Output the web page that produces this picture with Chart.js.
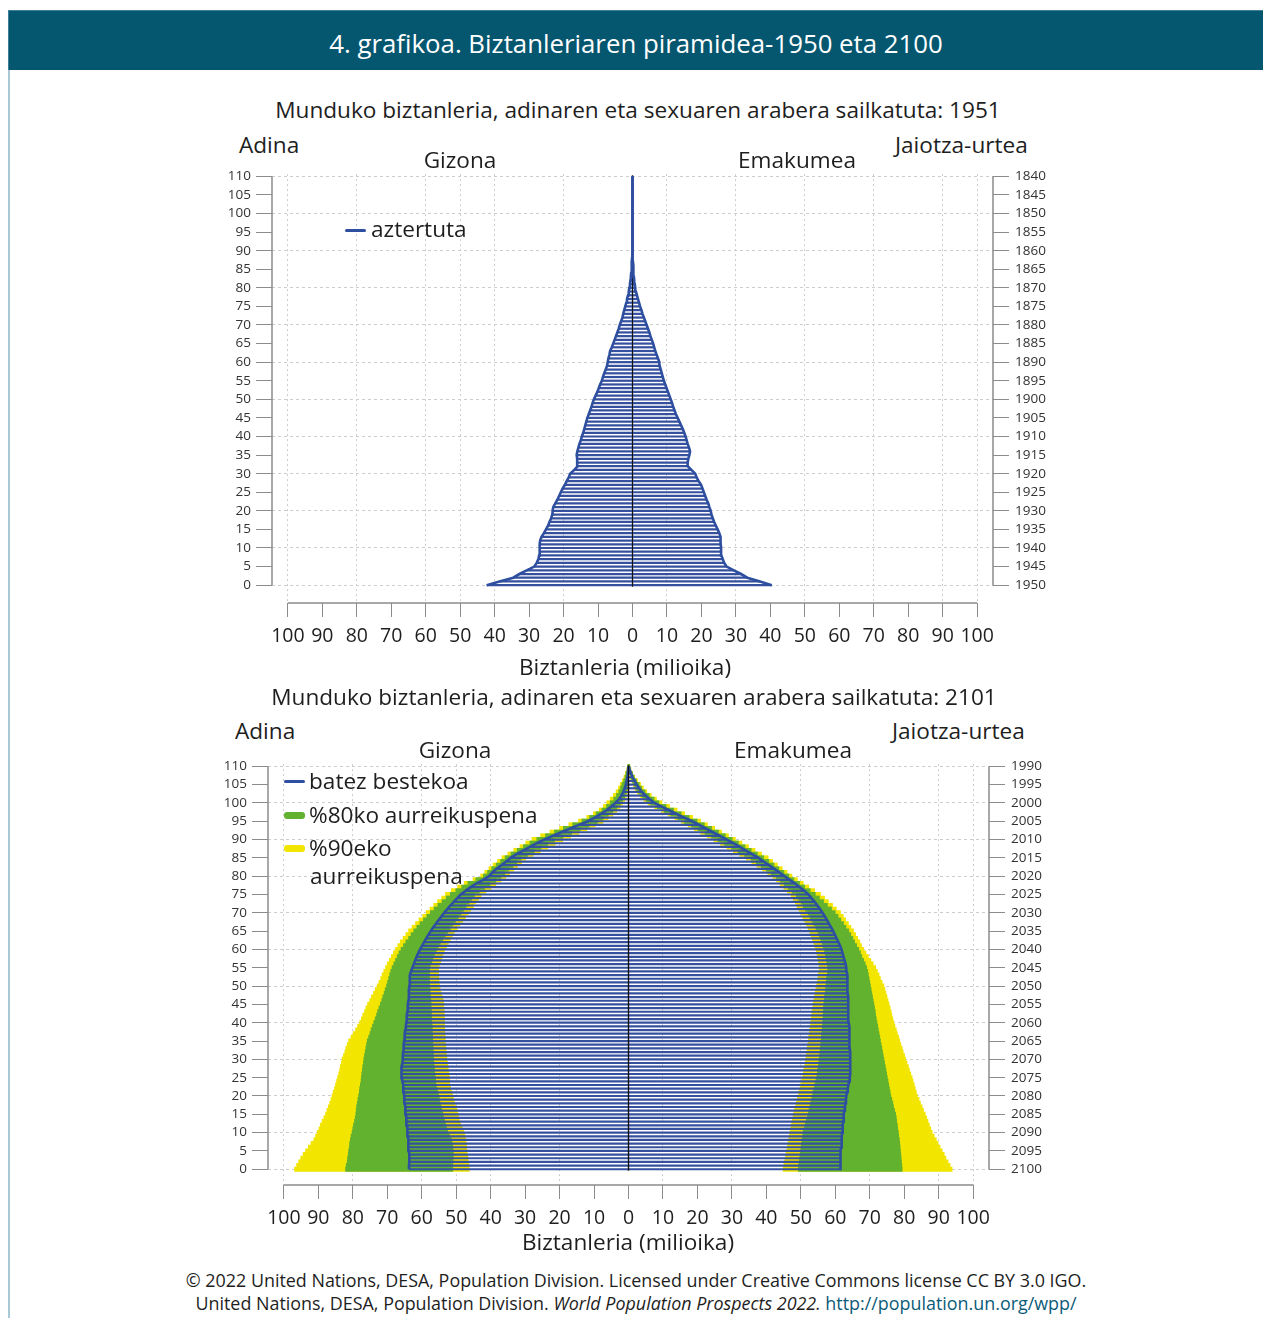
<!DOCTYPE html>
<html>
<head>
<meta charset="utf-8">
<script src="https://cdn.jsdelivr.net/npm/chart.js@4.4.1/dist/chart.umd.min.js"></script>
<style>
    body { margin: 0; width: 1263px; height: 1318px; position: relative; background: #fff; overflow: hidden;
           font-family: 'Open Sans', Lato, sans-serif; color: #1e1e1e; }
    .banner { position: absolute; left: 8px; top: 10px; width: 1255px; height: 60px; background: #05566f;
              border-top: 1px solid #3d7f96; border-left: 1px solid #3d7f96; box-sizing: border-box; }
    .rule { position: absolute; left: 8px; top: 70px; width: 2px; height: 1248px; background: #a8c8d6; }
    .t { position: absolute; white-space: nowrap; line-height: 1; z-index: 2; font-size: 22.6px; }
    .c { transform: translate(-50%, -50%); }
    .l { transform: translateY(-50%); }
    .key { position: absolute; border-radius: 3px; z-index: 2; }
    .foot { font-size: 17.9px; }
    canvas { position: absolute; z-index: 1; }
    a { color: #0b5b78; text-decoration: none; }
</style>
</head>
<body>
<div class="banner"></div>
<div class="rule"></div>
<div class="t c" style="left:636px;top:44px;font-size:25.8px;color:#fff;">4. grafikoa. Biztanleriaren piramidea-1950 eta 2100</div>

<div class="t c" style="left:638px;top:110px;">Munduko biztanleria, adinaren eta sexuaren arabera sailkatuta: 1951</div>
<div class="t l" style="left:239px;top:145px;">Adina</div>
<div class="t c" style="left:460px;top:160px;">Gizona</div>
<div class="t c" style="left:797px;top:160px;">Emakumea</div>
<div class="t l" style="left:895px;top:145px;">Jaiotza-urtea</div>
<div class="key" style="left:345px;top:229px;width:21px;height:3px;background:#2e4f9f;"></div>
<div class="t l" style="left:371px;top:229px;">aztertuta</div>
<div class="t c" style="left:625px;top:667px;">Biztanleria (milioika)</div>

<div class="t c" style="left:634px;top:697px;">Munduko biztanleria, adinaren eta sexuaren arabera sailkatuta: 2101</div>
<div class="t l" style="left:235px;top:731px;">Adina</div>
<div class="t c" style="left:455px;top:750px;">Gizona</div>
<div class="t c" style="left:793px;top:750px;">Emakumea</div>
<div class="t l" style="left:892px;top:731px;">Jaiotza-urtea</div>
<div class="key" style="left:284px;top:780px;width:21px;height:3px;background:#2e4f9f;"></div>
<div class="t l" style="left:309px;top:781px;">batez bestekoa</div>
<div class="key" style="left:284px;top:812px;width:21px;height:7px;background:#63b22f;"></div>
<div class="t l" style="left:309px;top:815px;">%80ko aurreikuspena</div>
<div class="key" style="left:284px;top:845px;width:21px;height:7px;background:#f2e600;"></div>
<div class="t l" style="left:309px;top:848px;">%90eko</div>
<div class="t l" style="left:310px;top:876px;">aurreikuspena</div>
<div class="t c" style="left:628px;top:1242px;">Biztanleria (milioika)</div>

<div class="t c foot" style="left:636px;top:1281px;">© 2022 United Nations, DESA, Population Division. Licensed under Creative Commons license CC BY 3.0 IGO.</div>
<div class="t c foot" style="left:636px;top:1304px;">United Nations, DESA, Population Division. <i>World Population Prospects 2022.</i> <a href="http://population.un.org/wpp/">http://population.un.org/wpp/</a></div>

<canvas id="pyramid1951" width="880" height="520" style="left:200px;top:160px;"></canvas>
<canvas id="pyramid2101" width="880" height="512" style="left:196px;top:750px;"></canvas>

<script>
// single years of age, 0..110
const ages = [
    0, 1, 2, 3, 4, 5, 6, 7, 8, 9, 10, 11, 12, 13, 14, 15, 16, 17, 18, 19,
    20, 21, 22, 23, 24, 25, 26, 27, 28, 29, 30, 31, 32, 33, 34, 35, 36, 37, 38, 39,
    40, 41, 42, 43, 44, 45, 46, 47, 48, 49, 50, 51, 52, 53, 54, 55, 56, 57, 58, 59,
    60, 61, 62, 63, 64, 65, 66, 67, 68, 69, 70, 71, 72, 73, 74, 75, 76, 77, 78, 79,
    80, 81, 82, 83, 84, 85, 86, 87, 88, 89, 90, 91, 92, 93, 94, 95, 96, 97, 98, 99,
    100, 101, 102, 103, 104, 105, 106, 107, 108, 109, 110
];
const ageTicks = [0, 5, 10, 15, 20, 25, 30, 35, 40, 45, 50, 55, 60, 65, 70, 75, 80, 85, 90, 95, 100, 105, 110];
const popTicks = [-100, -90, -80, -70, -60, -50, -40, -30, -20, -10, 0, 10, 20, 30, 40, 50, 60, 70, 80, 90, 100];
const gridValues = [-100, -80, -60, -50, -40, -20, 10, 30, 50, 70, 90, 100];

// 1951, millions
const male1951 = [
    42.3, 38.6, 34.6, 32.8, 30.7, 28.5, 27.8, 27.3, 27.1, 27.0,
    26.9, 26.9, 26.8, 26.4, 25.7, 25.1, 24.5, 24.1, 23.6, 23.3,
    23.2, 23.0, 22.4, 21.8, 21.3, 20.8, 20.3, 19.6, 19.1, 18.5,
    18.1, 16.9, 15.9, 16.0, 16.1, 16.2, 16.0, 15.7, 15.4, 15.0,
    14.7, 14.3, 14.0, 13.7, 13.4, 13.1, 12.7, 12.3, 11.9, 11.6,
    11.2, 10.7, 10.2, 9.8, 9.4, 8.9, 8.6, 8.2, 7.8, 7.4,
    7.2, 7.0, 6.7, 6.5, 6.0, 5.6, 5.2, 4.8, 4.4, 4.0,
    3.7, 3.3, 2.9, 2.7, 2.4, 2.1, 1.8, 1.6, 1.3, 1.1,
    0.92, 0.75, 0.6, 0.48, 0.38, 0.3, 0.22, 0.16, 0.12, 0.08,
    0.06, 0.04, 0.03, 0.02, 0.015, 0.01, 0.01, 0.01, 0.01, 0.01,
    0.01, 0, 0, 0, 0, 0, 0, 0, 0, 0, 0
];
const female1951 = [
    40.4, 37.0, 33.3, 31.5, 29.4, 27.3, 26.6, 26.2, 25.8, 25.7,
    25.7, 25.6, 25.6, 25.5, 25.2, 24.7, 24.2, 23.7, 23.3, 22.9,
    22.7, 22.3, 22.0, 21.5, 21.1, 20.7, 20.3, 19.9, 19.2, 18.6,
    18.2, 17.1, 16.0, 16.0, 16.2, 16.5, 16.7, 16.4, 16.0, 15.7,
    15.4, 15.0, 14.6, 14.1, 13.6, 13.1, 12.6, 12.2, 11.8, 11.5,
    11.1, 10.7, 10.3, 9.9, 9.5, 9.1, 8.8, 8.5, 8.2, 7.9,
    7.8, 7.4, 7.0, 6.6, 6.3, 6.0, 5.6, 5.2, 4.9, 4.5,
    4.1, 3.7, 3.3, 2.9, 2.6, 2.2, 1.9, 1.6, 1.3, 1.0,
    0.8, 0.65, 0.5, 0.4, 0.32, 0.25, 0.19, 0.14, 0.1, 0.07,
    0.05, 0.04, 0.03, 0.02, 0.015, 0.01, 0.01, 0.01, 0.01, 0.01,
    0.01, 0, 0, 0, 0, 0, 0, 0, 0, 0, 0
];

// 2101 projection, millions: median and the 80% / 90% prediction intervals
const male2101 = [
    63.7, 63.7, 63.6, 63.6, 63.6, 63.7, 63.8, 63.9, 63.9, 64.0,
    64.1, 64.2, 64.3, 64.4, 64.5, 64.6, 64.7, 64.8, 64.9, 65.0,
    65.1, 65.2, 65.3, 65.4, 65.6, 65.8, 65.9, 65.9, 65.8, 65.6,
    65.5, 65.5, 65.4, 65.3, 65.2, 65.1, 65.0, 64.9, 64.8, 64.6,
    64.5, 64.4, 64.3, 64.2, 64.1, 64.0, 63.9, 63.8, 63.7, 63.7,
    63.6, 63.5, 63.5, 63.4, 63.1, 62.7, 62.3, 61.9, 61.5, 61.0,
    60.5, 59.9, 59.3, 58.7, 58.1, 57.4, 56.7, 55.9, 55.1, 54.3,
    53.5, 52.6, 51.7, 50.7, 49.7, 48.7, 47.3, 45.8, 44.2, 42.2,
    40.5, 39.5, 38.3, 36.9, 35.5, 34.2, 32.5, 30.6, 28.6, 26.6,
    24.5, 22.0, 19.5, 17.0, 14.4, 11.8, 9.8, 8.0, 6.4, 5.0,
    3.8, 2.8, 2.1, 1.5, 1.1, 0.8, 0.55, 0.35, 0.2, 0.1, 0.05
];
const male2101hi80 = [
    82.0, 81.8, 81.5, 81.4, 81.2, 81.1, 80.9, 80.8, 80.6, 80.4,
    80.1, 79.9, 79.7, 79.4, 79.2, 79.0, 78.9, 78.8, 78.6, 78.4,
    78.2, 78.0, 77.9, 77.7, 77.5, 77.4, 77.3, 77.1, 77.0, 76.8,
    76.7, 76.5, 76.3, 76.1, 75.9, 75.7, 75.3, 74.9, 74.6, 74.2,
    73.8, 73.4, 73.0, 72.7, 72.3, 71.9, 71.5, 71.2, 70.8, 70.5,
    70.1, 69.8, 69.5, 69.2, 68.9, 68.5, 68.0, 67.5, 67.0, 66.5,
    65.9, 65.2, 64.5, 63.7, 63.0, 62.2, 61.3, 60.4, 59.4, 58.4,
    57.4, 56.3, 55.2, 54.0, 52.8, 51.6, 50.0, 48.3, 46.5, 44.2,
    42.0, 40.8, 39.6, 38.3, 37.0, 35.7, 34.0, 32.2, 30.4, 28.5,
    26.5, 24.0, 21.4, 18.8, 16.1, 13.4, 11.2, 9.3, 7.6, 6.3,
    5.2, 4.2, 3.4, 2.7, 2.2, 1.8, 1.3, 0.9, 0.6, 0.3, 0.1
];
const male2101hi90 = [
    96.8, 96.2, 95.6, 95.0, 94.3, 93.6, 92.8, 92.0, 91.2, 90.7,
    90.2, 89.7, 89.3, 88.8, 88.3, 87.8, 87.4, 87.0, 86.6, 86.2,
    85.9, 85.6, 85.2, 84.9, 84.6, 84.3, 84.0, 83.7, 83.5, 83.2,
    83.0, 82.6, 82.2, 81.9, 81.5, 81.1, 80.4, 79.8, 79.1, 78.5,
    77.9, 77.4, 77.0, 76.5, 76.1, 75.6, 75.0, 74.5, 73.9, 73.4,
    72.8, 72.3, 71.8, 71.4, 70.9, 70.4, 69.9, 69.3, 68.7, 68.1,
    67.5, 66.8, 66.1, 65.3, 64.5, 63.7, 62.7, 61.7, 60.7, 59.6,
    58.6, 57.5, 56.4, 55.3, 54.1, 53.0, 51.3, 49.5, 47.5, 45.0,
    42.8, 41.6, 40.4, 39.2, 37.9, 36.6, 34.9, 33.2, 31.4, 29.7,
    27.9, 25.4, 22.7, 19.9, 17.2, 14.4, 12.0, 10.1, 8.4, 7.2,
    6.2, 5.2, 4.3, 3.5, 2.8, 2.3, 1.7, 1.2, 0.8, 0.4, 0.15
];
const male2101lo80 = [
    51.1, 51.1, 51.1, 51.0, 51.0, 51.0, 51.1, 51.3, 51.5, 52.0,
    52.6, 52.9, 53.2, 53.5, 53.8, 54.0, 54.3, 54.5, 54.8, 55.0,
    55.2, 55.5, 55.8, 56.0, 56.1, 56.2, 56.3, 56.4, 56.5, 56.6,
    56.7, 56.7, 56.8, 56.8, 56.9, 56.9, 57.0, 57.0, 57.1, 57.1,
    57.2, 57.2, 57.3, 57.3, 57.4, 57.4, 57.5, 57.6, 57.7, 57.7,
    57.8, 57.8, 57.9, 57.9, 57.9, 57.9, 57.6, 57.2, 56.8, 56.4,
    55.9, 55.3, 54.7, 54.0, 53.3, 52.6, 51.8, 51.1, 50.3, 49.5,
    48.7, 48.0, 47.2, 46.4, 45.6, 44.8, 43.4, 41.9, 40.3, 38.6,
    37.1, 36.0, 34.9, 33.7, 32.5, 31.3, 29.4, 27.5, 25.5, 23.6,
    21.6, 19.1, 16.6, 14.1, 11.6, 9.1, 7.5, 6.0, 4.7, 3.5,
    2.5, 1.8, 1.2, 0.8, 0.6, 0.4, 0.25, 0.15, 0.08, 0.04, 0.02
];
const male2101lo90 = [
    46.3, 46.4, 46.6, 46.7, 46.9, 47.0, 47.1, 47.2, 47.3, 47.6,
    47.9, 48.3, 48.8, 49.2, 49.4, 49.6, 49.9, 50.3, 50.6, 50.9,
    51.1, 51.4, 51.7, 52.0, 52.0, 52.1, 52.2, 52.4, 52.5, 52.7,
    52.8, 52.9, 53.0, 53.1, 53.2, 53.3, 53.3, 53.4, 53.4, 53.5,
    53.5, 53.5, 53.6, 53.6, 53.7, 53.7, 53.9, 54.2, 54.5, 54.8,
    55.0, 55.1, 55.1, 55.2, 55.2, 55.3, 55.0, 54.6, 54.2, 53.9,
    53.5, 52.9, 52.4, 51.8, 51.2, 50.6, 49.8, 49.0, 48.2, 47.4,
    46.6, 45.9, 45.1, 44.4, 43.6, 42.9, 41.5, 40.0, 38.6, 37.1,
    35.7, 34.6, 33.4, 32.3, 31.1, 29.9, 27.8, 25.7, 23.5, 21.4,
    19.2, 16.9, 14.5, 12.2, 9.8, 7.5, 6.0, 4.6, 3.5, 2.6,
    1.8, 1.2, 0.8, 0.5, 0.3, 0.2, 0.12, 0.07, 0.04, 0.02, 0.01
];
const female2101 = [
    61.4, 61.4, 61.5, 61.5, 61.6, 61.6, 61.7, 61.8, 61.9, 61.9,
    62.0, 62.1, 62.2, 62.3, 62.4, 62.5, 62.6, 62.8, 62.9, 63.1,
    63.2, 63.4, 63.6, 63.8, 64.0, 64.2, 64.3, 64.3, 64.4, 64.4,
    64.3, 64.3, 64.3, 64.2, 64.2, 64.2, 64.1, 64.1, 64.0, 64.0,
    63.9, 63.9, 63.8, 63.8, 63.7, 63.7, 63.7, 63.7, 63.6, 63.6,
    63.6, 63.5, 63.5, 63.4, 63.3, 63.2, 63.0, 62.7, 62.4, 62.1,
    61.8, 61.4, 60.9, 60.4, 59.9, 59.4, 58.8, 58.2, 57.6, 57.0,
    56.3, 55.6, 54.8, 54.0, 53.1, 52.2, 51.0, 49.7, 48.3, 46.8,
    45.3, 43.8, 42.3, 40.8, 39.2, 37.7, 35.9, 34.1, 32.3, 30.4,
    28.5, 26.5, 24.5, 22.5, 20.5, 18.5, 16.2, 13.9, 11.8, 9.6,
    7.5, 6.2, 5.0, 3.9, 3.1, 2.4, 1.8, 1.2, 0.8, 0.4, 0.2
];
const female2101hi80 = [
    79.3, 79.2, 79.1, 79.0, 78.9, 78.8, 78.7, 78.6, 78.5, 78.3,
    78.2, 78.0, 77.9, 77.7, 77.6, 77.4, 77.1, 76.8, 76.6, 76.3,
    76.0, 75.8, 75.6, 75.4, 75.2, 75.0, 74.8, 74.6, 74.4, 74.2,
    74.0, 73.8, 73.6, 73.4, 73.2, 73.0, 72.8, 72.6, 72.4, 72.2,
    72.0, 71.8, 71.6, 71.5, 71.3, 71.1, 70.9, 70.7, 70.5, 70.3,
    70.1, 69.9, 69.7, 69.5, 69.3, 69.0, 68.6, 68.1, 67.6, 67.2,
    66.7, 66.1, 65.5, 65.0, 64.4, 63.8, 63.0, 62.3, 61.5, 60.7,
    59.9, 58.8, 57.6, 56.5, 55.3, 54.1, 52.6, 51.0, 49.5, 47.9,
    46.4, 45.0, 43.5, 42.1, 40.6, 39.1, 37.3, 35.5, 33.7, 31.8,
    30.0, 28.0, 26.0, 24.0, 21.9, 19.8, 17.5, 15.2, 13.0, 10.8,
    8.7, 7.3, 5.9, 4.7, 3.7, 3.0, 2.2, 1.5, 1.0, 0.5, 0.25
];
const female2101hi90 = [
    93.8, 93.2, 92.6, 92.0, 91.5, 90.9, 90.3, 89.7, 89.2, 88.6,
    88.0, 87.6, 87.2, 86.8, 86.4, 86.0, 85.5, 85.1, 84.6, 84.2,
    83.7, 83.4, 83.1, 82.8, 82.5, 82.2, 81.8, 81.4, 81.1, 80.7,
    80.3, 80.0, 79.6, 79.3, 78.9, 78.6, 78.3, 77.9, 77.6, 77.2,
    76.9, 76.6, 76.3, 76.1, 75.8, 75.5, 75.2, 74.9, 74.6, 74.3,
    74.0, 73.5, 73.0, 72.6, 72.1, 71.6, 70.9, 70.2, 69.5, 68.8,
    68.1, 67.5, 67.0, 66.4, 65.8, 65.2, 64.4, 63.7, 62.9, 62.2,
    61.4, 60.2, 59.1, 57.9, 56.8, 55.6, 53.9, 52.2, 50.6, 48.9,
    47.3, 45.9, 44.5, 43.1, 41.7, 40.4, 38.5, 36.6, 34.7, 32.8,
    30.9, 28.9, 26.9, 24.9, 22.8, 20.8, 18.5, 16.2, 14.0, 11.8,
    9.6, 8.0, 6.5, 5.2, 4.2, 3.4, 2.5, 1.7, 1.1, 0.6, 0.3
];
const female2101lo80 = [
    49.4, 49.5, 49.7, 49.8, 50.0, 50.1, 50.2, 50.4, 50.5, 50.7,
    50.8, 51.1, 51.4, 51.7, 52.0, 52.3, 52.5, 52.8, 53.0, 53.3,
    53.5, 53.7, 54.0, 54.2, 54.5, 54.7, 54.9, 55.0, 55.2, 55.3,
    55.5, 55.6, 55.7, 55.8, 55.9, 56.0, 56.1, 56.2, 56.3, 56.4,
    56.5, 56.6, 56.6, 56.7, 56.7, 56.8, 56.9, 57.0, 57.2, 57.3,
    57.4, 57.5, 57.6, 57.8, 57.9, 58.0, 57.8, 57.6, 57.4, 57.2,
    57.0, 56.6, 56.3, 55.9, 55.5, 55.1, 54.5, 53.9, 53.4, 52.8,
    52.2, 51.5, 50.8, 50.2, 49.5, 48.8, 47.6, 46.5, 45.3, 44.2,
    43.0, 41.5, 40.1, 38.6, 37.2, 35.7, 33.8, 31.9, 30.0, 28.0,
    26.1, 24.2, 22.3, 20.3, 18.4, 16.4, 14.4, 12.4, 10.5, 8.5,
    6.5, 5.3, 4.2, 3.2, 2.4, 1.8, 1.3, 0.9, 0.6, 0.3, 0.15
];
const female2101lo90 = [
    45.0, 45.2, 45.4, 45.6, 45.8, 46.0, 46.2, 46.4, 46.6, 46.8,
    47.0, 47.2, 47.4, 47.6, 47.8, 48.0, 48.3, 48.6, 48.8, 49.1,
    49.4, 49.6, 49.9, 50.1, 50.4, 50.6, 50.8, 51.0, 51.2, 51.4,
    51.6, 51.7, 51.9, 52.0, 52.2, 52.3, 52.4, 52.6, 52.7, 52.9,
    53.0, 53.1, 53.3, 53.4, 53.6, 53.7, 53.9, 54.1, 54.3, 54.5,
    54.7, 54.9, 55.1, 55.2, 55.4, 55.6, 55.4, 55.2, 55.0, 54.8,
    54.6, 54.2, 53.9, 53.5, 53.1, 52.7, 52.2, 51.7, 51.2, 50.7,
    50.2, 49.6, 49.0, 48.5, 47.9, 47.3, 46.2, 45.2, 44.1, 43.1,
    42.0, 40.5, 39.0, 37.4, 35.9, 34.3, 32.4, 30.5, 28.7, 26.8,
    24.9, 23.0, 21.1, 19.2, 17.4, 15.5, 13.6, 11.6, 9.7, 7.7,
    5.8, 4.6, 3.6, 2.7, 2.0, 1.5, 1.1, 0.7, 0.5, 0.25, 0.1
];

const BLUE = '#2e4f9f';
const BAR_BLUE = '#35509f';
const GREEN = '#63b22f';
const YELLOW = '#f2e600';
const GRID = '#cdcdcd';
const AXIS = '#8c8c8c';

// men are drawn to the left, so their values are negated
function points(values, sign) {
    return ages.map((a, i) => ({ x: sign * values[i], y: a }));
}
function ranges(lo, hi, sign) {
    return ages.map((a, i) => ({ x: [sign * lo[i], sign * hi[i]], y: a }));
}

function outline(values, sign) {
    return {
        type: 'line', data: points(values, sign), borderColor: BLUE, borderWidth: 2.6,
        pointRadius: 0, fill: false, order: 0, xAxisID: 'x', yAxisID: 'y',
    };
}
function stripes(values, sign) {
    return {
        type: 'bar', data: points(values, sign), backgroundColor: BAR_BLUE,
        barPercentage: 0.6, categoryPercentage: 1, grouped: false, order: 1, xAxisID: 'x', yAxisID: 'y',
    };
}
function band(lo, hi, sign, color, order) {
    return {
        type: 'bar', data: ranges(lo, hi, sign), backgroundColor: color, inflateAmount: 0.7,
        barPercentage: 1, categoryPercentage: 1, grouped: false, order: order, xAxisID: 'x', yAxisID: 'y',
    };
}

// axis lines that stop at 0 and 110, and the black zero line
const axisLines = {
    id: 'axisLines',
    beforeDatasetsDraw(chart, args, opts) {
        if (!opts.zeroOnTop) drawZero(chart);
    },
    afterDatasetsDraw(chart, args, opts) {
        if (opts.zeroOnTop) drawZero(chart);
    },
    afterDraw(chart) {
        const { ctx, chartArea, scales: { x, y } } = chart;
        ctx.save();
        ctx.strokeStyle = AXIS;
        ctx.lineWidth = 1.5;
        ctx.beginPath();
        ctx.moveTo(chartArea.left, y.getPixelForValue(110));
        ctx.lineTo(chartArea.left, y.getPixelForValue(0));
        ctx.moveTo(chartArea.right, y.getPixelForValue(110));
        ctx.lineTo(chartArea.right, y.getPixelForValue(0));
        ctx.moveTo(x.getPixelForValue(-100), chartArea.bottom);
        ctx.lineTo(x.getPixelForValue(100), chartArea.bottom);
        ctx.stroke();
        ctx.restore();
    },
};
function drawZero(chart) {
    const { ctx, scales: { x, y } } = chart;
    ctx.save();
    ctx.strokeStyle = '#111';
    ctx.lineWidth = 1.4;
    ctx.beginPath();
    ctx.moveTo(x.getPixelForValue(0), y.getPixelForValue(110.3));
    ctx.lineTo(x.getPixelForValue(0), y.getPixelForValue(-0.4));
    ctx.stroke();
    ctx.restore();
}

function pyramidOptions(baseYear, yMin, zeroOnTop) {
    const ageAxisTicks = (s) => { s.ticks = ageTicks.map(v => ({ value: v })); };
    return {
        indexAxis: 'y',
        responsive: false,
        animation: false,
        layout: { padding: { top: 10.8, left: 0, right: 0, bottom: 0 } },
        plugins: {
            legend: { display: false },
            tooltip: { enabled: false },
            axisLines: { zeroOnTop: zeroOnTop },
        },
        scales: {
            x: {
                type: 'linear',
                min: -104.6,
                max: 104.6,
                afterBuildTicks: (s) => { s.ticks = popTicks.map(v => ({ value: v })); },
                afterFit: (s) => { s.height = 77; },
                grid: {
                    color: (c) => (c.tick && gridValues.includes(c.tick.value) ? GRID : 'rgba(0,0,0,0)'),
                    tickColor: AXIS,
                    tickLength: 14,
                },
                border: { display: false, dash: [2, 3] },
                ticks: {
                    autoSkip: false,
                    maxRotation: 0,
                    padding: 8,
                    color: '#1e1e1e',
                    font: { family: 'Open Sans', size: 19.5 },
                    callback: (v) => Math.abs(v),
                },
            },
            y: {
                type: 'linear',
                position: 'left',
                min: yMin,
                max: 110.6,
                offset: false,
                afterBuildTicks: ageAxisTicks,
                afterFit: (s) => { s.width = 72; },
                grid: {
                    offset: false,
                    color: (c) => (c.tick && c.tick.value % 10 === 0 ? GRID : 'rgba(0,0,0,0)'),
                    tickColor: AXIS,
                    tickLength: 16,
                },
                border: { display: false, dash: [3, 3] },
                ticks: { autoSkip: false, padding: 5, color: '#333', font: { family: 'Open Sans', size: 13.5 } },
            },
            y2: {
                type: 'linear',
                position: 'right',
                min: yMin,
                max: 110.6,
                offset: false,
                afterBuildTicks: ageAxisTicks,
                afterFit: (s) => { s.width = 87; },
                grid: { offset: false, drawOnChartArea: false, tickColor: AXIS, tickLength: 16 },
                border: { display: false },
                ticks: {
                    autoSkip: false,
                    padding: 6,
                    color: '#333',
                    font: { family: 'Open Sans', size: 13.5 },
                    callback: (v) => baseYear - v,
                },
            },
        },
    };
}

new Chart(document.getElementById('pyramid1951'), {
    type: 'bar',
    data: {
        datasets: [
            outline(male1951, -1),
            outline(female1951, 1),
            stripes(male1951, -1),
            stripes(female1951, 1),
        ],
    },
    options: pyramidOptions(1950, -4.8, false),
    plugins: [axisLines],
});

new Chart(document.getElementById('pyramid2101'), {
    type: 'bar',
    data: {
        datasets: [
            outline(male2101, -1),
            outline(female2101, 1),
            stripes(male2101, -1),
            stripes(female2101, 1),
            band(male2101lo80, male2101hi80, -1, GREEN, 2),
            band(female2101lo80, female2101hi80, 1, GREEN, 2),
            band(male2101lo90, male2101hi90, -1, YELLOW, 3),
            band(female2101lo90, female2101hi90, 1, YELLOW, 3),
        ],
    },
    options: pyramidOptions(2100, -4.3, true),
    plugins: [axisLines],
});
</script>
</body>
</html>
